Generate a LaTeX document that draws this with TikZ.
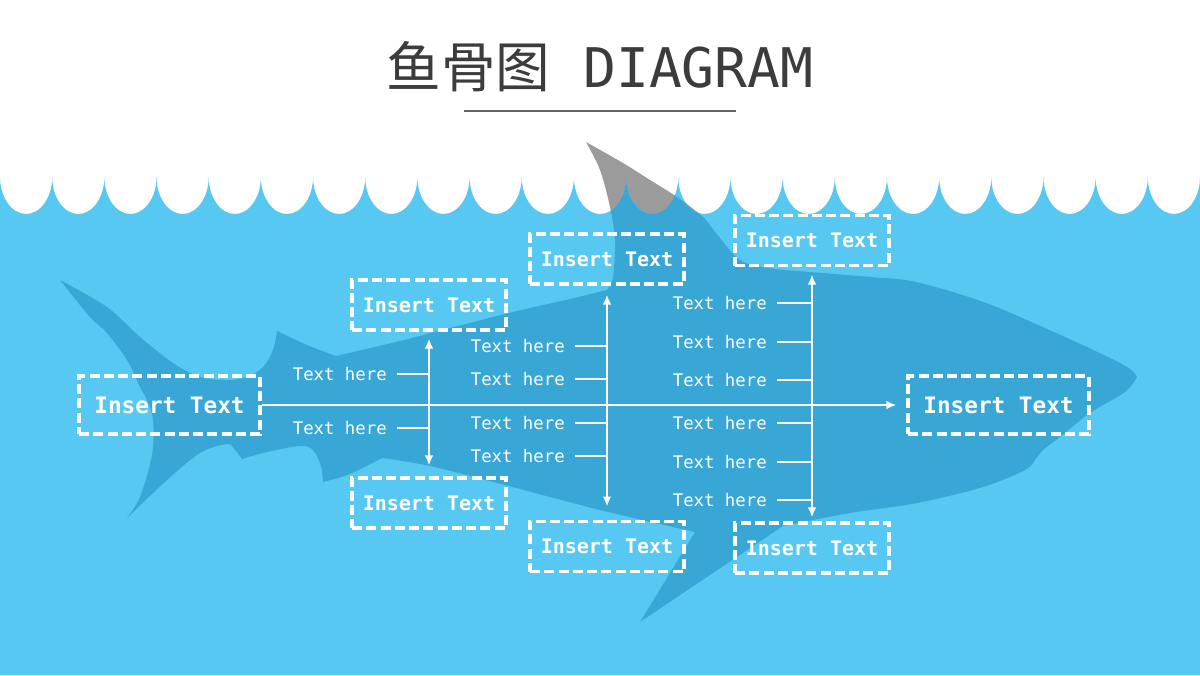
\documentclass[tikz,border=0pt]{standalone}
\usepackage{fontspec}
\usetikzlibrary{arrows.meta}
\newfontfamily\monofont{DejaVu Sans Mono}
\newfontfamily\cjkfont{Noto Sans CJK SC}
\definecolor{sea}{RGB}{87,200,242}
\definecolor{sharkc}{RGB}{56,167,213}
\definecolor{fingray}{RGB}{155,155,155}
\definecolor{titlec}{RGB}{60,60,60}
\definecolor{rulec}{RGB}{100,100,100}
\tikzset{
 boxbase/.style={draw=white, line width=2.4pt, dash pattern=on 7.5pt off 3.2pt, text=white, inner sep=0pt},
 bigbox/.style={boxbase, minimum width=135.75pt, minimum height=43.5pt, font=\monofont\bfseries\fontsize{17}{20}\selectfont},
 smallbox/.style={boxbase, minimum width=115.5pt, minimum height=37.5pt, font=\monofont\bfseries\fontsize{15}{18}\selectfont},
 lbl/.style={text=white, font=\monofont\fontsize{13}{15}\selectfont, inner sep=0pt, anchor=east},
 bone/.style={draw=white, line width=1.5pt},
 tickline/.style={draw=white, line width=1.4pt},
 tipend/.style={-{Latex[length=7.5pt,width=6.5pt]}},
 tipboth/.style={{Latex[length=7.5pt,width=6.5pt]}-{Latex[length=7.5pt,width=6.5pt]}},
}
\def\seapath{(0,675) -- (0,177) \foreach \i in {0,...,22} { .. controls +(0,20.4) and +(-14.4,0) .. ++(26.087,37) .. controls +(14.4,0) and +(0,20.4) .. ++(26.087,-37) } -- (1200,675) -- cycle}
\def\sharkpath{plot[smooth,tension=0.55] coordinates {(60,280) (107,307) (140,337) (173,363) (200,377) (227,380) (247,377) (263,367) (273,350) (277,331)}
 -- plot[smooth,tension=0.55] coordinates {(277,331) (307,345) (336,356)}
 -- plot[smooth,tension=0.55] coordinates {(336,356) (400,341) (450,328) (517,311) (570,299) (607,290)}
 -- plot[smooth,tension=0.55] coordinates {(607,290) (613,277) (615,240) (610,207) (600,170) (586,142)}
 -- plot[smooth,tension=0.55] coordinates {(586,142) (623,163) (650,180) (677,197) (703,217) (716,233) (740,260) (768,268) (810,272) (870,277) (916,282) (986,303) (1056,333) (1108,357) (1130,369) (1137,377)}
 -- plot[smooth,tension=0.55] coordinates {(1137,377) (1125,392) (1090,413) (1060,437) (1043,450) (1035,460) (1025,470) (983,487) (917,503) (850,513) (783,526)}
 -- (640,622) -- (695,532)
 -- plot[smooth,tension=0.55] coordinates {(695,532) (600,510) (501,484) (430,466) (382,458)}
 -- plot[smooth,tension=0.55] coordinates {(382,458) (350,474) (323,482)}
 -- plot[smooth,tension=0.55] coordinates {(323,482) (321,466) (313,450) (300,446) (267,452) (242,459)}
 -- plot[smooth,tension=0.55] coordinates {(242,459) (235,450) (227,444) (200,453) (167,480) (127,518)}
 -- plot[smooth,tension=0.55] coordinates {(127,518) (140,497) (152,455) (153,420) (147,400) (140,387) (127,360) (107,333) (90,317) (60,280)}
 -- cycle}
\begin{document}
\begin{tikzpicture}[x=0.75pt,y=-0.75pt]
\useasboundingbox (0,0) rectangle (1200,675);
\fill[white] (0,0) rectangle (1200,675);
% shark above water (fin)
\fill[fingray] \sharkpath;
% sea
\fill[sea] \seapath;
\begin{scope}
 \clip \seapath;
 \fill[sharkc] \sharkpath;
\end{scope}
% title
\node[font=\monofont\fontsize{41}{48}\selectfont, text=titlec, anchor=base, inner sep=0pt] (title) at (600,87) {{\cjkfont 鱼骨图} DIAGRAM};
\coordinate (r1) at (464,111);
\coordinate (r2) at (736,111);
\draw[rulec, line width=1.3pt] (r1) -- (r2);
% head and tail boxes
\node[bigbox] (L) at (169.5,405) {Insert Text};
\node[bigbox] (R) at (998.5,405) {Insert Text};
% category boxes
\node[smallbox] (T1) at (429,305) {Insert Text};
\node[smallbox] (B1) at (429,503) {Insert Text};
\node[smallbox] (T2) at (607,259) {Insert Text};
\node[smallbox] (B2) at (607,546.5) {Insert Text};
\node[smallbox] (T3) at (812,240.5) {Insert Text};
\node[smallbox] (B3) at (812,548) {Insert Text};
% spine
\draw[bone, tipend, shorten >=7.5pt] (L.east) -- (R.west);
% bones
\draw[bone, tipboth, shorten <=5.25pt, shorten >=8.25pt] (T1.south) -- (B1.north);
\draw[bone, tipboth, shorten <=6.75pt, shorten >=10pt] (T2.south) -- (B2.north);
\draw[bone, tipboth, shorten <=5.6pt, shorten >=3pt] (T3.south) -- (B3.north);
% labels
\foreach \n/\y in {a1/374,a2/428} {
 \node[lbl] (\n) at (387,\y) {Text here};
 \coordinate (k\n) at (429,\y);
 \draw[tickline, shorten <=7.5pt] (\n.east) -- (k\n);
}
\foreach \n/\y in {b1/346,b2/379,b3/423,b4/456} {
 \node[lbl] (\n) at (565,\y) {Text here};
 \coordinate (k\n) at (607,\y);
 \draw[tickline, shorten <=7.5pt] (\n.east) -- (k\n);
}
\foreach \n/\y in {c1/303,c2/342,c3/380,c4/423,c5/462,c6/500} {
 \node[lbl] (\n) at (767,\y) {Text here};
 \coordinate (k\n) at (812,\y);
 \draw[tickline, shorten <=7.5pt] (\n.east) -- (k\n);
}
\end{tikzpicture}
\end{document}
